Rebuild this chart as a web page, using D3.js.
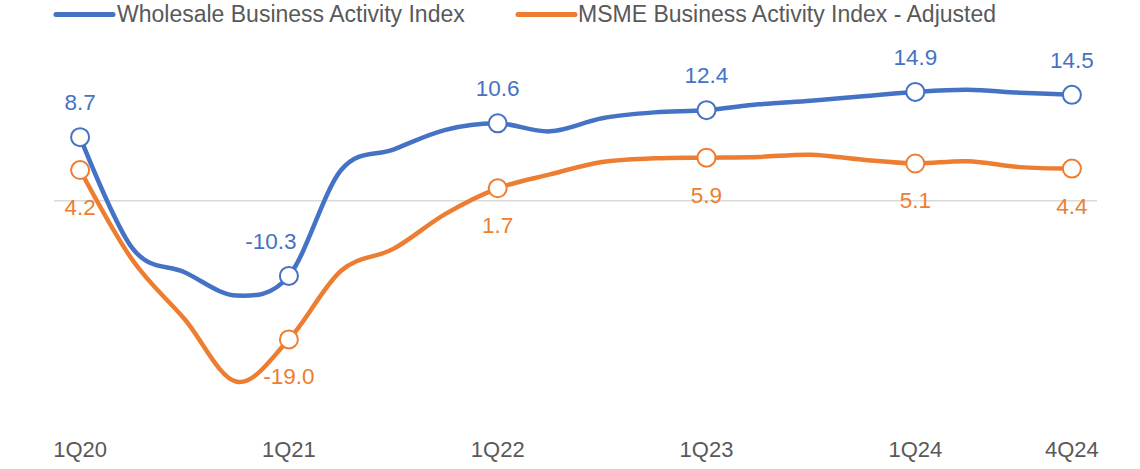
<!DOCTYPE html>
<html>
<head>
<meta charset="utf-8">
<script src="https://cdn.jsdelivr.net/npm/d3@7"></script>
<style>
  html, body { margin: 0; padding: 0; background: #ffffff; }
  svg { display: block; font-family: "Liberation Sans", Arial, sans-serif; }
</style>
</head>
<body>
<svg id="chart" width="1140" height="469"></svg>
<script>
const categories = ["1Q20","2Q20","3Q20","4Q20","1Q21","2Q21","3Q21","4Q21","1Q22","2Q22","3Q22","4Q22","1Q23","2Q23","3Q23","4Q23","1Q24","2Q24","3Q24","4Q24"];
const tickLabels = ["1Q20","1Q21","1Q22","1Q23","1Q24","4Q24"];
const seriesNames = ["Wholesale Business Activity Index", "MSME Business Activity Index - Adjusted"];
const wholesale = [8.7, -6.5, -9.8, -13.0, -10.3, 4.2, 7.0, 9.7, 10.6, 9.5, 11.3, 12.1, 12.4, 13.2, 13.7, 14.3, 14.9, 15.2, 14.8, 14.5];
const msme = [4.2, -8.1, -16.2, -24.8, -19.0, -9.6, -6.6, -1.8, 1.7, 3.6, 5.3, 5.8, 5.9, 6.0, 6.3, 5.6, 5.1, 5.4, 4.6, 4.4];
const labelledPoints = ["1Q20","1Q21","1Q22","1Q23","1Q24","4Q24"];
const colors = ["#4472C4", "#ED7D31"];

const svg = d3.select("#chart");

const x = d3.scaleBand().domain(categories).range([54, 1098]).paddingInner(0).paddingOuter(0);
const cx = d => x(d) + x.bandwidth() / 2;
const y = d3.scaleLinear().domain([-25, 20]).range([383.2, 54.7]);

// zero line
svg.append("line")
  .attr("x1", 54).attr("x2", 1097)
  .attr("y1", y(0)).attr("y2", y(0))
  .attr("stroke", "#d9d9d9").attr("stroke-width", 1.5);

// x axis labels
const xAxis = d3.axisBottom(x).tickValues(tickLabels).tickSize(0).tickPadding(0);
const gx = svg.append("g").attr("transform", "translate(0,441)").call(xAxis);
gx.select(".domain").remove();
gx.selectAll("text")
  .attr("font-size", 22).attr("fill", "#595959")
  .attr("font-family", "Liberation Sans, Arial, sans-serif")
  .attr("dy", "0.71em");

const line = d3.line()
  .x((d, i) => cx(categories[i]))
  .y(d => y(d))
  .curve(d3.curveCardinal.tension(0));

const series = [wholesale, msme];
series.forEach((vals, s) => {
  svg.append("path")
    .datum(vals)
    .attr("d", line)
    .attr("fill", "none")
    .attr("stroke", colors[s])
    .attr("stroke-width", 4.5)
    .attr("stroke-linejoin", "round")
    .attr("stroke-linecap", "round");
});

// markers & labels
const labelNudge = { "0-1Q21": -18 };
series.forEach((vals, s) => {
  const pts = labelledPoints.map(c => ({ c, v: vals[categories.indexOf(c)] }));
  svg.append("g").selectAll("circle").data(pts).join("circle")
    .attr("cx", d => cx(d.c)).attr("cy", d => y(d.v))
    .attr("r", 9)
    .attr("fill", "#fff")
    .attr("stroke", colors[s])
    .attr("stroke-width", 2);
  svg.append("g").selectAll("text").data(pts).join("text")
    .attr("x", d => cx(d.c) + (labelNudge[s + "-" + d.c] || 0))
    .attr("y", d => s === 0 ? y(d.v) - 27 : y(d.v) + 45)
    .attr("text-anchor", "middle")
    .attr("font-size", 22.5)
    .attr("fill", colors[s])
    .text(d => d.v.toFixed(1));
});

// legend
const legendItems = [{ x: 56, tx: 117 }, { x: 518, tx: 578 }];
seriesNames.forEach((name, s) => {
  const g = svg.append("g");
  g.append("line")
    .attr("x1", legendItems[s].x).attr("x2", legendItems[s].x + 57)
    .attr("y1", 14.5).attr("y2", 14.5)
    .attr("stroke", colors[s]).attr("stroke-width", 5)
    .attr("stroke-linecap", "round");
  g.append("text")
    .attr("x", legendItems[s].tx).attr("y", 22)
    .attr("font-size", 23)
    .attr("fill", "#595959")
    .text(name);
});
</script>
</body>
</html>
